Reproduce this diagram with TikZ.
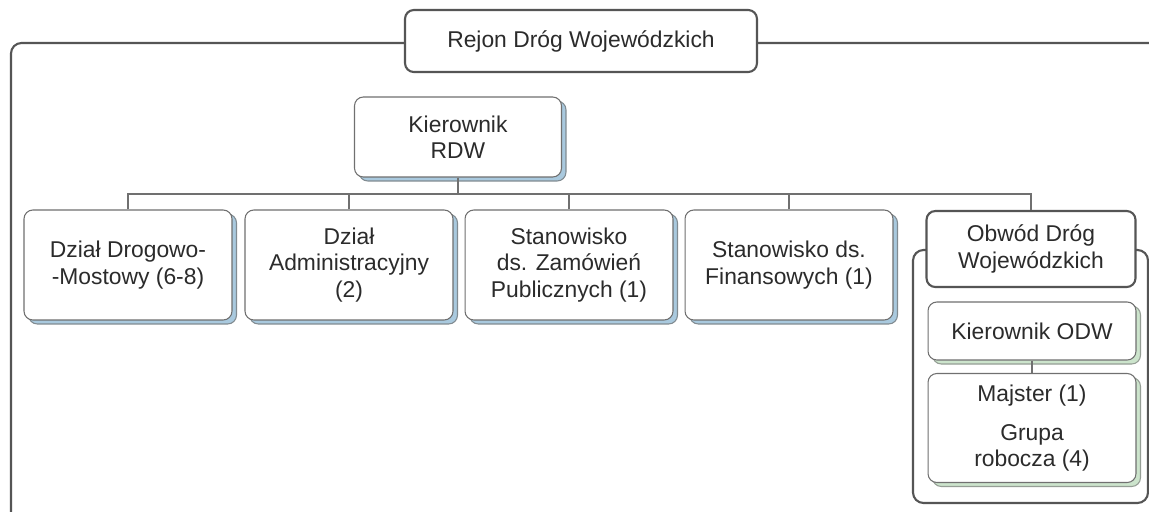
\documentclass[tikz,border=0pt]{standalone}
\usepackage{fontspec}
\setmainfont{Liberation Sans}
\usetikzlibrary{shadows}
\definecolor{ramka}{HTML}{555555}
\definecolor{linia}{HTML}{707070}
\definecolor{cienb}{HTML}{A9C9DE}
\definecolor{cienz}{HTML}{CCE4CC}
\definecolor{tekst}{HTML}{2B2B2B}
\tikzset{
  box/.style={draw=linia, fill=white, rounded corners=5pt, align=center, text=tekst,
    inner sep=2pt, font=\fontsize{13}{15}\selectfont, minimum width=4.16cm, line width=0.6pt},
  boxb/.style={box, drop shadow={shadow xshift=0.09cm, shadow yshift=-0.08cm,
    fill=cienb, draw=linia!70!cienb, opacity=1}},
  boxz/.style={box, drop shadow={shadow xshift=0.09cm, shadow yshift=-0.08cm,
    fill=cienz, draw=linia!60!cienz, opacity=1}},
  gruby/.style={box, draw=ramka, line width=1.2pt},
  lacz/.style={draw=linia, line width=0.6pt},
}
\begin{document}
\begin{tikzpicture}[x=0.02cm,y=-0.02cm]
\useasboundingbox (0,0) rectangle (1149,511);
\clip (0,0) rectangle (1149,511);
\fill[white] (0,0) rectangle (1149,511);
% ramki
\draw[ramka, line width=1.2pt, rounded corners=6pt] (11,43) rectangle (1175,540);
\draw[ramka, line width=1.2pt, rounded corners=6pt] (913,250) rectangle (1148,503);

\node[gruby, minimum width=7.04cm, minimum height=1.24cm] (rejon) at (581,41) {Rejon Dróg Wojewódzkich};
\node[boxb, minimum width=4.14cm, minimum height=1.6cm] (kier) at (458,137) {Kierownik\\RDW};

\node[boxb, minimum height=2.2cm] (dzial1) at (128,265) {Dział Drogowo-\\-Mostowy (6-8)};
\node[boxb, minimum height=2.2cm] (dzial2) at (349,265) {Dział\\Administracyjny\\(2)};
\node[boxb, minimum height=2.2cm] (stan1) at (569,265) {Stanowisko\\ds. Zamówień\\Publicznych (1)};
\node[boxb, minimum height=2.2cm] (stan2) at (789,265) {Stanowisko ds.\\Finansowych (1)};

\node[gruby, minimum width=4.18cm, minimum height=1.52cm] (obwod) at (1031,249) {Obwód Dróg\\Wojewódzkich};
\node[boxz, minimum height=1.16cm] (kodw) at (1032,331) {Kierownik ODW};
\node[boxz, minimum height=2.18cm] (majster) at (1032,428) {Majster (1)\\[7pt]Grupa\\robocza (4)};

\coordinate (szyna) at (458,194);
\draw[lacz] (kier.south) -- (szyna);
\draw[lacz] (dzial1.north) |- (szyna) -| (obwod.north);
\foreach \n in {dzial2,stan1,stan2}
  \draw[lacz] (\n.north) -- (\n.north |- szyna);
\draw[lacz] (kodw) -- (majster);
\end{tikzpicture}
\end{document}
